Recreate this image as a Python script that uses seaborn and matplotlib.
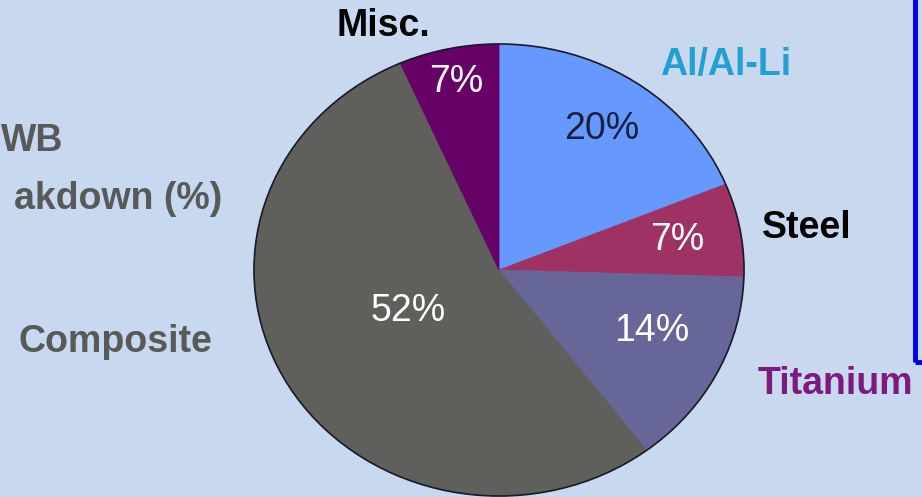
import numpy as np
import matplotlib.pyplot as plt
import seaborn as sns
from matplotlib.patches import Ellipse, Rectangle

materials = ['Al/Al-Li', 'Steel', 'Titanium', 'Composite', 'Misc.']
# slice sizes as drawn in the picture (the printed labels are rounded differently)
shares = [18.8, 6.7, 14.2, 53.7, 6.6]
pct_labels = ['20%', '7%', '14%', '52%', '7%']
slice_colors = ['#6699ff', '#9e3363', '#666699', '#5f605c', '#660066']
pct_colors = ['#1a2040', 'white', 'white', 'white', 'white']
# how far out each percentage sits, and a small angle nudge (deg)
pct_radius = [0.75, 0.74, 0.68, 0.41, 0.85]
pct_nudge = [0, 0, 4, -4.5, 0]

bg = '#c8d8ef'
sns.set_theme(style='white', rc={'figure.facecolor': bg, 'axes.facecolor': bg})
plt.rcParams['font.family'] = ['Liberation Sans', 'DejaVu Sans']

W, H = 922, 497
fig = plt.figure(figsize=(W / 100, H / 100), dpi=100)
ax = fig.add_axes([0, 0, 1, 1])

wedges, _ = ax.pie(shares, colors=slice_colors, startangle=90, counterclock=False)
for w, c in zip(wedges, slice_colors):
    w.set_edgecolor(c)
    w.set_linewidth(0.6)

# image is slightly stretched sideways: 245 px wide radius, 226 px tall
cx, cy, rx, ry = 499, 227, 245, 226
ax.set_aspect('auto')
ax.set_xlim(-cx / rx, (W - cx) / rx)
ax.set_ylim(-cy / ry, (H - cy) / ry)
ax.axis('off')
ax.add_patch(Ellipse((0, 0), 2, 2, fill=False, edgecolor='#1a1a2a', linewidth=1.2))

for w, lab, col, r, nd in zip(wedges, pct_labels, pct_colors, pct_radius, pct_nudge):
    ang = np.deg2rad((w.theta1 + w.theta2) / 2 + nd)
    ax.text(r * np.cos(ang), r * np.sin(ang), lab, color=col, fontsize=27,
            ha='center', va='center')

def px(x, y, s, ha='center', **kw):
    fig.text(x / W, 1 - y / H, s, ha=ha, va='center', fontsize=27,
             fontweight='bold', **kw)

px(383, 26, 'Misc.', color='black')
px(726, 65, 'Al/Al-Li', color='#22a0d2')
px(807, 228, 'Steel', color='black')
px(835, 384, 'Titanium', color='#7d1a7d')
px(115, 342, 'Composite', color='#585a5a')
px(1, 141, 'WB', ha='left', color='#585a5a')
px(222, 199, 'akdown (%)', ha='right', color='#585a5a')

fig.patches.append(Rectangle((915 / W, 1 - 362 / H), 0.1, 1, transform=fig.transFigure,
                             fill=False, edgecolor='#0000ee', linewidth=3.5))

fig.savefig('out.png', dpi=100, facecolor=bg)
